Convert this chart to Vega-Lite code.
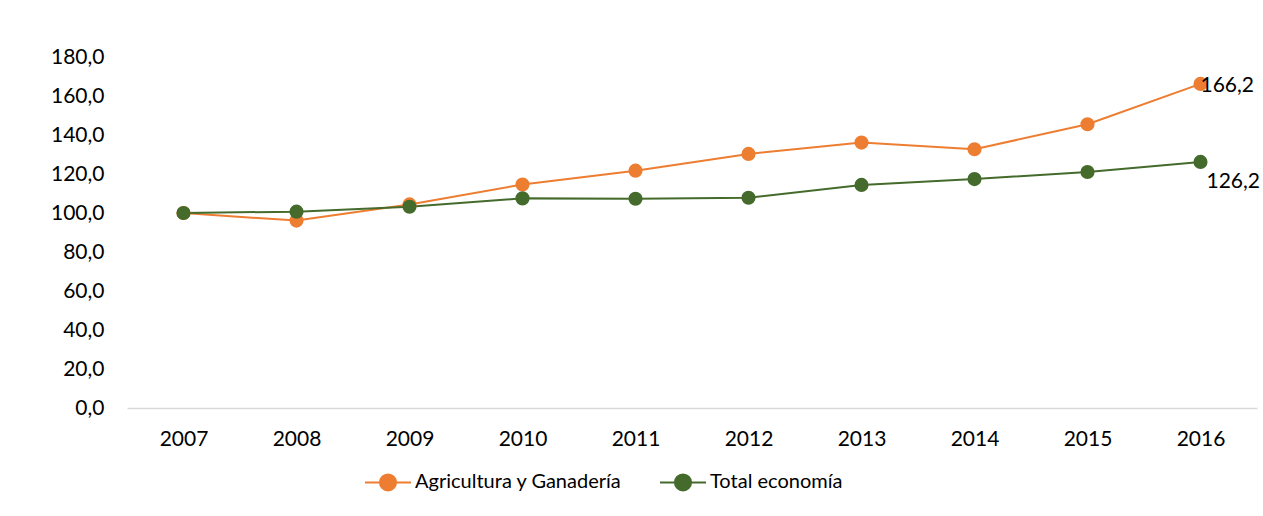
{
  "$schema": "https://vega.github.io/schema/vega-lite/v6.json",
  "width": 1130,
  "height": 351,
  "autosize": {"type": "none"},
  "padding": {"left": 127, "top": 57, "right": 6, "bottom": 108},
  "background": "white",
  "config": {
    "view": {"stroke": null},
    "font": "Lato",
    "axis": {"labelFont": "Lato", "labelColor": "#000000", "labelFontSize": 21}
  },
  "data": {
    "values": [
      {"year": "2007", "series": "Agricultura y Ganadería", "value": 100.0},
      {"year": "2008", "series": "Agricultura y Ganadería", "value": 96.1},
      {"year": "2009", "series": "Agricultura y Ganadería", "value": 104.4},
      {"year": "2010", "series": "Agricultura y Ganadería", "value": 114.6},
      {"year": "2011", "series": "Agricultura y Ganadería", "value": 121.7},
      {"year": "2012", "series": "Agricultura y Ganadería", "value": 130.3},
      {"year": "2013", "series": "Agricultura y Ganadería", "value": 136.1},
      {"year": "2014", "series": "Agricultura y Ganadería", "value": 132.7},
      {"year": "2015", "series": "Agricultura y Ganadería", "value": 145.5},
      {"year": "2016", "series": "Agricultura y Ganadería", "value": 166.2, "label": "166,2"},
      {"year": "2007", "series": "Total economía", "value": 100.0},
      {"year": "2008", "series": "Total economía", "value": 100.7},
      {"year": "2009", "series": "Total economía", "value": 103.2},
      {"year": "2010", "series": "Total economía", "value": 107.5},
      {"year": "2011", "series": "Total economía", "value": 107.3},
      {"year": "2012", "series": "Total economía", "value": 107.8},
      {"year": "2013", "series": "Total economía", "value": 114.4},
      {"year": "2014", "series": "Total economía", "value": 117.4},
      {"year": "2015", "series": "Total economía", "value": 121.0},
      {"year": "2016", "series": "Total economía", "value": 126.2, "label": "126,2"}
    ]
  },
  "encoding": {
    "x": {
      "field": "year",
      "type": "ordinal",
      "title": null,
      "axis": {
        "labelAngle": 0,
        "ticks": false,
        "domainColor": "#D9D9D9",
        "domainWidth": 1.5,
        "labelPadding": 20,
        "grid": false
      }
    },
    "y": {
      "field": "value",
      "type": "quantitative",
      "title": null,
      "scale": {"domain": [0, 180], "nice": false, "zero": true},
      "axis": {
        "values": [0, 20, 40, 60, 80, 100, 120, 140, 160, 180],
        "labelExpr": "replace(format(datum.value, '.1f'), '.', ',')",
        "domain": false,
        "ticks": false,
        "grid": false,
        "labelPadding": 23
      }
    },
    "color": {
      "field": "series",
      "type": "nominal",
      "scale": {
        "domain": ["Agricultura y Ganadería", "Total economía"],
        "range": ["#ED7D31", "#446A2C"]
      },
      "legend": {
        "title": null,
        "orient": "none",
        "direction": "horizontal",
        "legendX": 237,
        "legendY": 401,
        "symbolType": "M-1,0L1,0M-0.35,0a0.35,0.35 0 1,0 0.7,0a0.35,0.35 0 1,0 -0.7,0",
        "symbolSize": 2116,
        "symbolStrokeWidth": 2,
        "labelFontSize": 20,
        "labelLimit": 0,
        "labelColor": "#000000",
        "labelFont": "Lato",
        "labelOffset": 3,
        "columnPadding": 34,
        "encode": {
          "symbols": {
            "update": {
              "fill": {"scale": "color", "field": "value"},
              "stroke": {"scale": "color", "field": "value"},
              "opacity": {"value": 1}
            }
          }
        }
      }
    }
  },
  "layer": [
    {"mark": {"type": "line", "strokeWidth": 2}},
    {"mark": {"type": "point", "filled": true, "size": 200, "opacity": 1}},
    {
      "transform": [{"filter": "datum.label != null && datum.series == 'Agricultura y Ganadería'"}],
      "mark": {"type": "text", "align": "left", "baseline": "middle", "dx": 0, "dy": 2, "fontSize": 21, "font": "Lato", "color": "#000000"},
      "encoding": {"text": {"field": "label"}, "color": {"value": "#000000"}}
    },
    {
      "transform": [{"filter": "datum.label != null && datum.series == 'Total economía'"}],
      "mark": {"type": "text", "align": "left", "baseline": "middle", "dx": 6, "dy": 20, "fontSize": 21, "font": "Lato", "color": "#000000"},
      "encoding": {"text": {"field": "label"}, "color": {"value": "#000000"}}
    }
  ]
}
